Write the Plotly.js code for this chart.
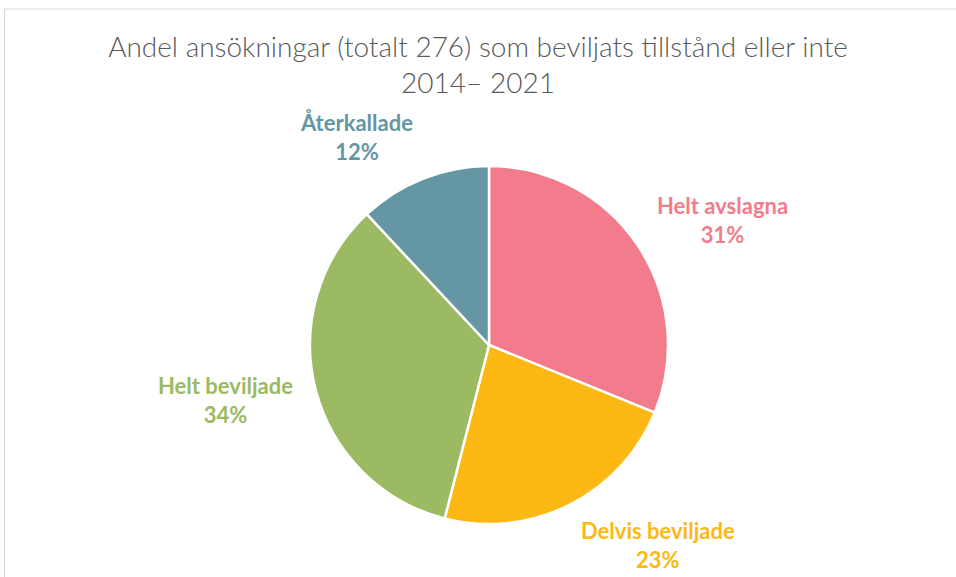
<!DOCTYPE html>
<html>
<head>
<meta charset="utf-8">
<script src="https://cdn.plot.ly/plotly-3.0.1.min.js"></script>
<style>html,body{margin:0;padding:0;background:#fff;}#chart{width:956px;height:577px;}</style>
</head>
<body>
<div id="chart"></div>
<script>
// ---- data ----
var categories = ['Helt avslagna', 'Delvis beviljade', 'Helt beviljade', 'Återkallade'];
var counts = [86, 63, 94, 33];
var titleText = 'Andel ansökningar (totalt 276) som beviljats tillstånd eller inte<br>2014– 2021';

// ---- style ----
var colors = ['#F37C8C', '#FDB813', '#9BBA62', '#6496A3'];
var W = 956, H = 577;
var cx = 489, cy = 345, R = 179;           // pie centre / radius in px (layout)
var labelDist = 1.12;                       // label anchor distance (in radii)
var labelHalfH = 23;                        // vertical offset factor for two-line labels
var labelFont = 'Lato, "Open Sans", sans-serif';

var total = counts.reduce(function(a, b){ return a + b; }, 0);

var trace = {
  type: 'pie',
  labels: categories,
  values: counts,
  sort: false,
  direction: 'clockwise',
  rotation: 0,
  marker: {colors: colors, line: {color: '#ffffff', width: 2.5}},
  textinfo: 'none',
  hoverinfo: 'label+percent',
  showlegend: false,
  domain: {
    x: [(cx - R) / W, (cx + R) / W],
    y: [(H - cy - R) / H, (H - cy + R) / H]
  }
};

// labels placed from the data's slice mid-angles
var annotations = [];
var cum = 0;
for (var i = 0; i < categories.length; i++) {
  var mid = (cum + counts[i] / 2) / total * 2 * Math.PI;
  cum += counts[i];
  var s = Math.sin(mid), c = Math.cos(mid);
  var px = cx + labelDist * R * s;
  var py = cy - labelDist * R * c;
  var pct = Math.round(counts[i] / total * 100) + '%';
  annotations.push({
    xref: 'paper', yref: 'paper',
    x: px / W, y: 1 - py / H,
    xanchor: s > 0.2 ? 'left' : (s < -0.2 ? 'right' : 'center'),
    yanchor: 'middle',
    yshift: c * labelHalfH,
    text: '<b>' + categories[i] + '</b><br><b>' + pct + '</b>',
    showarrow: false,
    align: 'center',
    font: {family: labelFont, size: 22, color: colors[i]}
  });
}

var layout = {
  width: W, height: H,
  margin: {l: 0, r: 0, t: 0, b: 0},
  paper_bgcolor: '#ffffff',
  title: {
    text: titleText,
    x: 0.5, xanchor: 'center',
    y: 1 - 57 / H, yref: 'container', yanchor: 'top',
    font: {family: 'Lato, "Open Sans", sans-serif', size: 28, color: '#595959', weight: 300}
  },
  annotations: annotations,
  shapes: [{
    type: 'rect', xref: 'paper', yref: 'paper',
    x0: 4.5 / W, x1: 1.05, y0: -0.05, y1: 1 - 9 / H,
    line: {color: '#D9D9D9', width: 1.2}, fillcolor: 'rgba(0,0,0,0)'
  }]
};

Plotly.newPlot('chart', [trace], layout, {displayModeBar: false, staticPlot: true});
</script>
</body>
</html>
